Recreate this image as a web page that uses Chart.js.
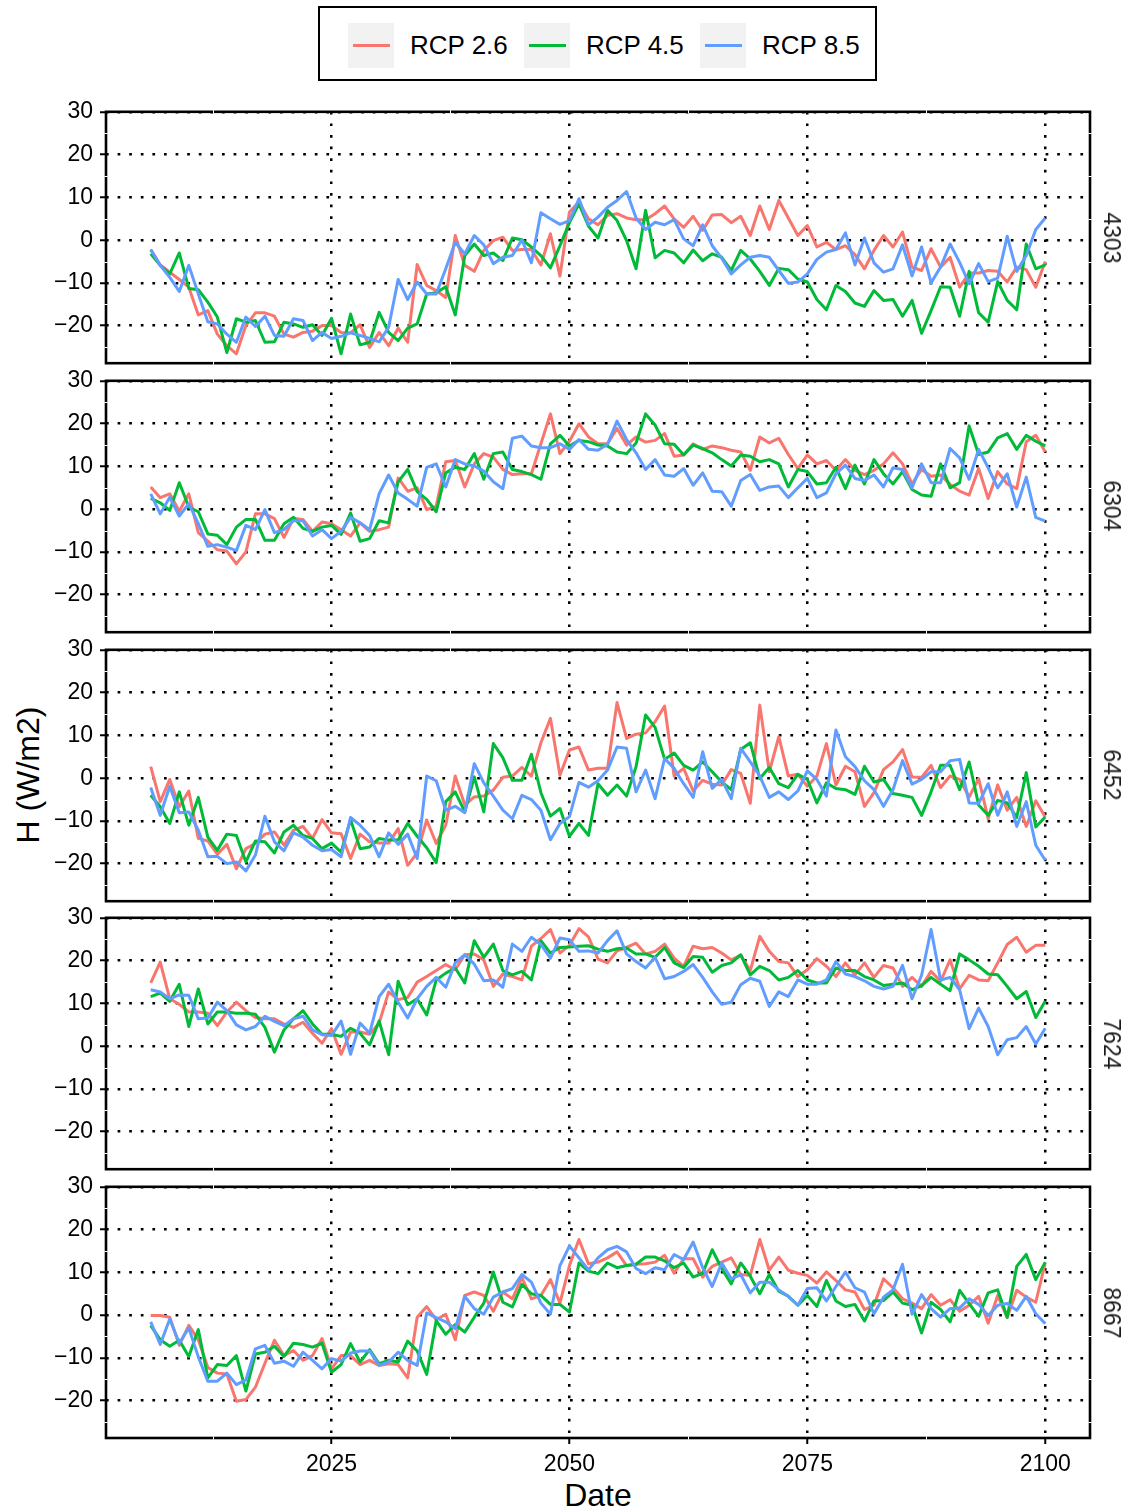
<!DOCTYPE html>
<html>
<head>
<meta charset="utf-8">
<title>H (W/m2) by station</title>
<script src="https://cdn.jsdelivr.net/npm/chart.js@4.4.1/dist/chart.umd.min.js"></script>
<style>
  html, body { margin: 0; padding: 0; background: #fff; }
  body { width: 1129px; height: 1512px; position: relative; overflow: hidden;
         font-family: "Liberation Sans", Arial, sans-serif; color: #000; }
  canvas.panel { position: absolute; left: 0; }
  #legend { position: absolute; left: 318px; top: 6px; width: 559px; height: 75px;
            box-sizing: border-box; border: 2px solid #000; background: #fff; }
  .key { position: absolute; top: 15px; width: 46px; height: 45px; background: #f2f2f2; }
  .key span { position: absolute; left: 5px; top: 21px; width: 37px; height: 3px; }
  .lab { position: absolute; top: 22px; font-size: 26px; line-height: 30px; white-space: nowrap; }
  .strip { position: absolute; font-size: 23px; line-height: 26px; color: #1a1a1a;
           transform: translate(-50%, -50%) rotate(90deg); white-space: nowrap; }
  #ytitle { position: absolute; left: 28px; top: 775px; font-size: 32px; line-height: 34px;
            transform: translate(-50%, -50%) rotate(-90deg); white-space: nowrap; }
  #xtitle { position: absolute; left: 598px; top: 1495px; font-size: 32px; line-height: 34px;
            transform: translate(-50%, -50%); white-space: nowrap; }
</style>
</head>
<body>
<div id="legend"></div>
<div id="ytitle">H (W/m2)</div>
<div id="xtitle">Date</div>

<script>
// ---- data -------------------------------------------------------------
const years = Array.from({ length: 95 }, (_, i) => 2006 + i);   // 2006 … 2100

const stations = ['4303', '6304', '6452', '7624', '8667'];
const scenarios = ['RCP 2.6', 'RCP 4.5', 'RCP 8.5'];

const xTicks = [2025, 2050, 2075, 2100];
const xMinor = [2012.5, 2037.5, 2062.5, 2087.5];
const yTicks = [-20, -10, 0, 10, 20, 30];
const yMinor = [-25, -15, -5, 5, 15, 25];

// station 4303
const h4303_rcp26 = [-2.2,-5.8,-7.5,-9.2,-11.0,-17.5,-16.5,-22.0,-24.7,-26.6,
  -20.0,-17.0,-17.0,-17.8,-22.0,-22.7,-21.6,-21.3,-20.0,-20.0,
  -21.6,-21.7,-19.8,-25.1,-21.6,-24.7,-20.6,-23.9,-5.7,-10.6,
  -11.8,-13.4,1.1,-5.9,-7.3,-2.4,-0.1,0.7,-2.4,-2.2,
  -2.2,-5.8,1.5,-8.4,6.6,8.9,5.0,3.6,5.8,6.2,
  5.2,4.8,4.8,6.2,8.0,5.0,3.0,5.6,2.3,5.9,
  6.0,4.1,5.6,1.1,8.0,2.5,9.3,5.2,1.1,3.4,
  -1.6,-0.5,-2.2,-1.3,-3.4,-6.7,-2.4,1.1,-1.6,1.9,
  -6.3,-7.1,-2.0,-6.3,-4.0,-11.0,-7.7,-7.7,-7.1,-7.3,
  -9.8,-6.3,-6.9,-11.0,-5.0];
const h4303_rcp45 = [-3.2,-5.9,-7.9,-3.0,-11.3,-11.6,-14.5,-18.0,-26.3,-18.4,
  -19.2,-18.8,-23.9,-23.8,-19.2,-19.6,-20.4,-19.8,-22.3,-18.3,
  -26.6,-17.3,-24.5,-23.9,-16.9,-21.6,-23.5,-20.6,-19.6,-12.6,
  -12.3,-10.9,-17.5,-3.6,-0.9,-3.6,-3.0,-4.8,0.5,0.1,
  -1.6,-3.6,-6.5,-1.3,4.1,8.5,3.3,0.5,7.0,4.6,
  -0.1,-6.7,7.0,-4.1,-2.4,-3.0,-5.3,-2.3,-4.8,-3.2,
  -4.0,-7.1,-2.4,-4.4,-7.3,-10.6,-6.6,-6.9,-9.1,-9.8,
  -13.9,-16.3,-10.6,-12.0,-14.7,-15.5,-11.8,-14.1,-13.9,-17.8,
  -14.1,-21.8,-16.5,-10.9,-11.0,-17.8,-7.3,-17.0,-19.2,-9.7,
  -14.1,-16.3,-0.9,-6.7,-5.8];
const h4303_rcp85 = [-2.2,-5.9,-8.7,-12.0,-5.9,-12.6,-19.1,-19.6,-22.0,-23.9,
  -18.0,-20.2,-17.8,-22.3,-22.5,-18.4,-18.8,-23.5,-21.6,-23.0,
  -22.5,-21.7,-22.3,-23.0,-23.8,-20.4,-9.2,-13.9,-9.8,-12.6,
  -12.6,-6.7,-0.5,-3.2,1.1,-1.1,-5.5,-4.0,-3.6,0.1,
  -5.3,6.4,5.0,3.7,4.6,9.7,3.6,5.4,7.7,9.3,
  11.4,5.2,2.5,4.2,3.6,4.8,0.3,-1.3,3.6,-1.3,
  -4.2,-7.9,-5.8,-4.0,-3.6,-4.0,-7.1,-10.1,-9.8,-7.9,
  -4.5,-2.8,-2.2,1.7,-5.8,0.5,-5.3,-7.5,-6.7,-1.1,
  -8.4,-1.6,-10.0,-6.3,-0.9,-5.2,-10.2,-5.5,-9.7,-8.9,
  0.9,-7.3,-3.6,2.5,5.2];

// station 6304
const h6304_rcp26 = [5.2,2.7,3.6,-0.5,3.6,-5.5,-7.5,-9.5,-9.8,-12.8,
  -10.0,-1.1,-1.1,-2.2,-6.6,-2.2,-2.4,-5.2,-3.0,-3.4,
  -4.8,-6.3,-3.2,-5.2,-4.8,-4.2,7.3,4.2,5.0,-0.1,
  0.7,11.1,11.4,5.2,10.6,13.0,12.2,9.3,8.1,8.3,
  8.3,15.3,22.3,13.0,15.9,20.0,16.9,15.3,15.3,18.9,
  15.0,16.9,15.7,16.1,17.7,12.4,12.7,15.3,14.0,14.8,
  14.4,13.8,13.4,9.1,16.9,15.5,16.6,12.8,9.5,12.7,
  10.6,11.4,9.1,11.6,9.1,8.1,9.1,10.6,13.2,10.6,
  5.9,9.3,7.7,8.0,5.8,4.2,3.3,9.5,2.5,8.8,
  5.9,4.8,15.8,17.3,13.4];
const h6304_rcp45 = [2.5,1.5,-0.3,6.2,0.5,-0.6,-5.8,-6.1,-8.3,-4.2,
  -2.4,-2.4,-7.3,-7.3,-3.4,-1.9,-4.5,-5.2,-4.2,-3.8,
  -5.9,-0.9,-7.5,-6.9,-2.7,-3.2,6.4,9.3,4.1,2.3,
  -0.6,8.5,9.8,9.3,13.0,7.0,13.0,13.4,9.3,8.8,
  8.1,7.0,15.3,17.3,14.8,16.1,15.8,15.0,14.8,13.4,
  13.0,15.5,22.3,19.7,15.3,15.2,12.7,15.0,14.2,13.2,
  11.6,10.1,12.7,12.4,11.1,11.6,10.6,5.2,9.3,8.8,
  5.9,6.2,9.8,4.8,10.3,5.9,11.6,8.3,5.9,8.8,
  4.6,3.3,3.0,10.6,5.0,6.2,19.5,12.8,13.4,16.7,
  17.7,14.0,17.3,15.9,14.8];
const h6304_rcp85 = [3.6,-1.1,2.8,-1.6,1.3,-3.4,-8.7,-8.3,-8.9,-9.7,
  -3.8,-4.8,-0.1,-5.5,-4.8,-2.7,-2.7,-6.3,-4.8,-6.9,
  -5.2,-1.9,-3.2,-4.8,3.6,8.0,3.8,2.3,0.7,9.8,
  10.6,5.2,11.6,10.6,10.1,8.9,6.4,4.8,16.6,17.1,
  14.8,14.4,14.4,15.3,14.0,16.3,14.0,13.8,15.2,20.6,
  16.3,13.2,9.3,11.6,8.0,7.7,9.5,5.6,8.5,4.2,
  4.1,0.7,6.7,8.1,4.4,5.2,5.4,2.7,5.0,7.2,
  2.7,3.8,8.3,10.3,7.2,6.7,8.0,5.2,9.7,9.3,
  5.0,10.6,6.2,6.2,14.2,12.0,7.0,14.0,9.7,5.0,
  8.3,0.5,7.5,-1.9,-2.8];

// station 6452
const h6452_rcp26 = [2.7,-5.5,-0.3,-6.7,-3.0,-14.1,-14.7,-17.8,-15.5,-21.2,
  -16.5,-15.3,-13.1,-12.6,-15.7,-12.2,-11.3,-14.1,-9.7,-12.8,
  -13.0,-18.8,-13.1,-14.9,-15.2,-15.2,-11.8,-20.4,-17.5,-9.8,
  -15.3,-11.0,0.5,-6.3,-4.4,-4.2,-2.8,0.2,0.5,2.5,
  0.5,8.3,14.0,0.7,6.6,7.3,1.9,2.3,2.3,17.7,
  9.3,10.3,10.6,13.2,16.9,0.5,2.3,-3.0,-0.5,-1.4,
  -1.6,2.0,1.1,-5.9,17.1,1.5,9.7,0.5,0.9,-1.9,
  0.5,8.1,-1.6,2.8,1.5,-6.6,-3.4,2.0,3.8,6.7,
  0.3,0.2,3.0,-2.2,0.5,-0.3,-4.4,-0.1,-9.5,-1.6,
  -7.5,-4.5,-11.3,-5.3,-9.1];
const h6452_rcp45 = [-4.0,-6.7,-10.6,-3.2,-11.0,-4.5,-13.8,-16.9,-13.1,-13.4,
  -19.6,-14.7,-14.9,-17.5,-12.6,-11.0,-13.4,-14.1,-16.5,-15.2,
  -17.3,-9.7,-16.5,-16.1,-14.1,-14.5,-14.5,-10.6,-13.6,-16.3,
  -19.8,-5.5,-3.2,-7.9,0.3,-7.9,8.1,4.8,-0.5,-0.5,
  5.6,-3.4,-8.9,-7.1,-13.6,-10.6,-13.4,-1.3,-4.0,-1.6,
  -4.2,2.7,14.8,11.9,4.4,5.9,3.0,1.9,3.8,1.5,
  -0.9,-2.7,6.7,8.3,-0.1,2.5,-1.3,-2.2,0.9,-0.3,
  -5.8,-1.1,-2.4,-2.7,-3.8,2.8,-0.9,-0.3,-3.6,-4.0,
  -4.5,-8.7,-3.2,3.0,3.0,-2.7,3.8,-6.3,-8.7,-5.2,
  -5.8,-9.2,1.3,-11.4,-9.1];
const h6452_rcp85 = [-2.2,-8.7,-1.9,-8.1,-7.9,-12.2,-18.4,-18.3,-20.0,-19.6,
  -21.7,-18.0,-8.9,-14.9,-17.0,-12.8,-13.8,-15.7,-17.0,-16.7,
  -18.4,-9.2,-11.0,-13.4,-18.4,-12.8,-15.5,-13.1,-18.8,0.5,
  -0.6,-7.5,-6.6,-8.1,3.4,-1.1,-4.2,-7.5,-9.5,-4.0,
  -5.0,-7.5,-14.4,-10.6,-9.0,-1.0,-2.1,-0.6,1.9,7.3,
  7.0,-3.2,1.9,-4.8,4.6,2.3,-1.3,-4.5,6.2,-2.4,
  -0.3,-4.8,7.0,3.8,0.5,-4.5,-3.2,-5.0,-3.0,1.7,
  -0.3,-4.2,11.3,5.0,2.7,-0.6,-2.7,-6.6,-2.7,4.1,
  -1.4,-0.3,1.5,1.5,4.1,4.4,-5.8,-5.9,-1.3,-8.7,
  -3.2,-11.3,-5.5,-15.7,-19.2];

// station 7624
const h7624_rcp26 = [14.8,19.7,11.1,9.8,8.0,8.0,7.7,4.8,8.0,10.3,
  8.3,6.7,6.4,6.4,5.2,4.4,5.6,3.0,0.7,4.1,
  -1.9,3.3,3.3,2.8,5.4,12.7,10.9,11.4,15.0,16.3,
  17.7,19.1,17.9,21.4,21.6,20.2,14.0,16.9,16.3,15.5,
  23.4,25.2,27.3,21.8,23.6,27.5,25.6,20.4,19.5,22.3,
  23.1,24.1,21.6,22.2,23.9,20.6,18.7,23.4,22.8,23.1,
  21.8,20.2,21.3,17.7,25.7,22.2,19.8,19.5,16.3,17.9,
  20.5,18.7,16.3,19.5,16.7,19.5,16.1,18.9,18.3,14.0,
  16.1,14.0,17.5,15.2,20.2,13.4,16.6,15.5,15.3,19.5,
  23.8,25.5,22.0,23.6,23.6];
const h7624_rcp45 = [11.6,12.4,10.5,14.5,4.6,13.4,5.2,8.0,8.0,7.7,
  7.7,7.5,4.4,-1.4,3.8,6.4,8.3,5.2,2.8,2.8,
  2.3,4.2,3.0,0.3,5.9,-2.0,15.2,9.7,11.1,7.3,
  15.5,17.1,18.3,14.8,24.7,20.8,23.9,17.7,16.7,17.5,
  15.5,24.7,21.8,23.1,23.2,23.4,23.5,22.7,22.2,22.8,
  23.0,21.6,21.6,20.8,23.1,19.5,18.4,21.0,20.8,17.3,
  18.9,19.5,21.4,16.7,18.7,17.7,15.5,16.1,17.7,15.5,
  14.8,14.8,18.3,17.7,17.7,16.3,15.5,14.2,14.5,14.8,
  13.2,14.2,16.1,14.5,13.0,21.6,20.2,18.7,16.9,16.7,
  14.0,11.1,12.8,6.7,10.6];
const h7624_rcp85 = [13.2,12.7,11.1,12.0,11.9,6.4,6.6,10.3,8.3,5.0,
  3.8,4.6,7.0,5.8,4.8,6.4,7.0,3.8,2.7,2.5,
  5.9,-1.9,5.4,3.0,11.6,14.5,10.3,6.6,11.1,14.0,
  16.1,13.8,19.5,21.4,19.2,15.3,15.5,13.8,23.9,22.2,
  25.5,23.8,20.6,25.3,24.9,22.2,22.3,21.8,24.7,27.0,
  21.6,19.8,18.3,20.8,15.8,16.3,17.5,19.1,16.1,12.7,
  9.8,10.3,14.4,15.9,15.2,9.3,12.7,11.6,15.5,14.5,
  14.5,15.5,19.8,16.9,16.3,15.3,14.0,13.4,14.0,18.9,
  11.1,16.6,27.3,15.5,16.1,13.2,4.1,8.9,4.6,-2.0,
  1.5,2.0,4.6,0.5,4.2];

// station 8667
const h8667_rcp26 = [-0.1,-0.1,-0.5,-7.1,-2.4,-5.8,-12.3,-13.6,-13.8,-20.2,
  -19.8,-16.9,-11.3,-5.9,-9.5,-8.3,-10.6,-9.5,-5.5,-12.6,
  -9.5,-9.5,-11.6,-10.6,-11.8,-11.4,-11.6,-14.7,-0.5,2.0,
  -1.1,0.2,-5.8,4.6,5.4,4.6,0.9,5.4,3.8,8.8,
  3.8,4.6,8.3,2.8,11.6,17.7,12.0,12.4,13.4,14.8,
  11.6,11.9,12.0,12.4,14.0,9.8,13.2,13.2,8.9,11.4,
  12.4,13.4,9.5,9.3,17.7,10.5,13.6,10.5,9.8,9.3,
  7.5,10.1,8.1,5.9,5.4,1.3,2.3,8.5,6.4,3.8,
  2.8,1.5,4.8,2.3,3.6,0.9,2.3,4.4,-1.9,4.6,
  -0.6,5.8,4.2,3.0,12.2];
const h8667_rcp45 = [-2.4,-5.8,-7.3,-5.9,-9.7,-3.4,-14.7,-11.6,-11.8,-9.5,
  -17.8,-9.1,-8.7,-7.3,-9.7,-6.6,-6.9,-7.5,-6.6,-13.4,
  -11.6,-6.7,-11.0,-8.1,-11.4,-10.6,-11.0,-6.1,-8.4,-13.9,
  -1.3,-4.5,-2.2,-4.0,-0.5,2.8,10.1,3.0,1.9,7.2,
  5.0,4.6,2.5,2.5,0.7,12.2,10.3,9.7,12.2,11.1,
  11.6,11.9,13.6,13.6,12.7,11.1,12.2,8.9,9.8,15.3,
  10.9,7.3,12.2,9.1,5.0,9.5,5.6,4.4,2.3,4.6,
  2.0,8.1,3.3,2.0,2.5,-1.4,3.3,3.4,5.4,2.8,
  2.3,-4.2,3.0,1.3,-1.6,5.8,2.7,-0.3,5.2,5.9,
  -0.5,11.4,14.2,8.3,12.4];
const h8667_rcp85 = [-1.6,-6.9,-0.9,-6.6,-3.0,-9.8,-15.5,-15.5,-13.6,-16.3,
  -15.2,-7.9,-7.1,-11.3,-10.8,-12.0,-8.7,-10.6,-12.6,-10.2,
  -10.8,-8.9,-8.4,-8.4,-11.8,-11.0,-8.7,-10.6,-11.8,0.5,
  -0.6,-1.6,-3.2,4.4,1.5,0.2,4.2,5.4,6.2,9.5,
  7.7,2.8,0.2,11.6,16.2,13.4,10.6,13.4,15.3,16.1,
  14.8,10.9,9.7,11.1,10.6,14.2,13.0,17.1,11.1,6.7,
  12.2,8.5,9.5,5.2,7.7,7.7,5.9,4.4,2.3,6.2,
  6.4,3.3,6.7,10.1,6.4,5.4,0.3,4.2,5.9,11.9,
  0.2,4.8,1.5,-0.5,1.5,1.7,3.8,2.5,-0.1,2.3,
  2.7,1.1,4.4,0.3,-2.0];

const seriesByStation = {
  '4303': [h4303_rcp26, h4303_rcp45, h4303_rcp85],
  '6304': [h6304_rcp26, h6304_rcp45, h6304_rcp85],
  '6452': [h6452_rcp26, h6452_rcp45, h6452_rcp85],
  '7624': [h7624_rcp26, h7624_rcp45, h7624_rcp85],
  '8667': [h8667_rcp26, h8667_rcp45, h8667_rcp85]
};

// ---- appearance -------------------------------------------------------
const colours = ['#F8766D', '#00BA38', '#619CFF'];
const FONT = '"Liberation Sans", Arial, sans-serif';
const PAGE_W = 1129, PAGE_H = 1512;
const PANEL_RIGHT = 1090;
const PANEL_H = 251, PANEL_STEP = 268.75, FIRST_TOP = 112;
const AXIS_W = 106;      // room for the y tick labels, left of every panel
const PAD = 16;

// legend (HTML)
const legendEl = document.getElementById('legend');
scenarios.forEach((name, i) => {
  const key = document.createElement('div');
  key.className = 'key';
  key.style.left = (28 + i * 176) + 'px';
  const ln = document.createElement('span');
  ln.style.background = colours[i];
  key.appendChild(ln);
  legendEl.appendChild(key);
  const lab = document.createElement('div');
  lab.className = 'lab';
  lab.style.left = (90 + i * 176) + 'px';
  lab.textContent = name;
  legendEl.appendChild(lab);
});

// panel frame: solid border on all four sides, with thin white breaks at the minor breaks
const panelFrame = {
  id: 'panelFrame',
  afterDraw(chart) {
    const { ctx, chartArea: a, scales } = chart;
    ctx.save();
    ctx.strokeStyle = '#000';
    ctx.lineWidth = 2.6;
    ctx.strokeRect(a.left, a.top, a.right - a.left, a.bottom - a.top);
    ctx.strokeStyle = '#fff';
    ctx.lineWidth = 1;
    ctx.beginPath();
    xMinor.forEach(v => {
      const x = Math.round(scales.x.getPixelForValue(v)) + 0.5;
      ctx.moveTo(x, a.top - 1.6); ctx.lineTo(x, a.top + 1.6);
      ctx.moveTo(x, a.bottom - 1.6); ctx.lineTo(x, a.bottom + 1.6);
    });
    yMinor.forEach(v => {
      const y = Math.round(scales.y.getPixelForValue(v)) + 0.5;
      ctx.moveTo(a.left - 1.6, y); ctx.lineTo(a.left + 1.6, y);
      ctx.moveTo(a.right - 1.6, y); ctx.lineTo(a.right + 1.6, y);
    });
    ctx.stroke();
    ctx.restore();
  }
};

const minusFmt = v => (v < 0 ? '\u2212' + Math.abs(v) : String(v));

// shiftTop: extra canvas room above the plot area; growBottom: extra room below it
function buildPanel(p, shiftTop, growBottom) {
  const st = stations[p];
  const last = p === stations.length - 1;
  const top = FIRST_TOP + p * PANEL_STEP;
  const canvasTop = top - PAD - shiftTop;
  const baseH = last ? (PAGE_H - (top - PAD)) : (PANEL_H + 2 * PAD);
  const canvasH = Math.round(baseH + shiftTop + growBottom);
  const xAxisH = last ? (PAGE_H - (top + PANEL_H)) : 0;

  const cv = document.createElement('canvas');
  cv.className = 'panel';
  cv.width = PAGE_W; cv.height = canvasH;
  cv.style.top = canvasTop + 'px';
  document.body.appendChild(cv);

  const datasets = seriesByStation[st].map((vals, i) => ({
    label: scenarios[i],
    data: years.map((yr, k) => ({ x: yr, y: vals[k] })),
    borderColor: colours[i],
    backgroundColor: colours[i],
    borderWidth: 3,
    borderJoinStyle: 'round',
    pointRadius: 0,
    tension: 0,
    fill: false,
    order: 3 - i          // RCP 8.5 drawn last (on top)
  }));

  const chart = new Chart(cv, {
    type: 'line',
    data: { datasets },
    plugins: [panelFrame],
    options: {
      responsive: false,
      animation: false,
      devicePixelRatio: 1,
      events: [],
      layout: { padding: { top: PAD, bottom: last ? 0 : PAD, left: 0, right: PAGE_W - PANEL_RIGHT } },
      plugins: { legend: { display: false }, tooltip: { enabled: false } },
      scales: {
        x: {
          type: 'linear',
          min: 2001.3, max: 2104.7,
          afterBuildTicks: ax => { ax.ticks = xTicks.map(v => ({ value: v })); },
          afterFit: ax => { ax.height = xAxisH; },
          grid: { color: '#000', lineWidth: 2.5, drawTicks: last, tickLength: 6,
                  tickColor: '#000', tickWidth: 2 },
          border: { display: false, dash: [2.7, 8.9] },
          ticks: { display: last, color: '#000', padding: 7, maxRotation: 0,
                   callback: v => String(v),
                   font: { family: FONT, size: 23 } }
        },
        y: {
          type: 'linear',
          min: -28.8, max: 30.05,
          afterBuildTicks: ax => { ax.ticks = yTicks.map(v => ({ value: v })); },
          afterFit: ax => { ax.width = AXIS_W; },
          grid: { color: '#000', lineWidth: 2.5, drawTicks: true, tickLength: 6,
                  tickColor: '#000', tickWidth: 2 },
          border: { display: false, dash: [2.7, 8.9] },
          ticks: { color: '#000', padding: 7, callback: minusFmt,
                   font: { family: FONT, size: 23 } }
        }
      }
    }
  });
  return { chart, cv, top };
}

stations.forEach((st, p) => {
  // lay the panel out once, then shift/grow the canvas so the plot area
  // sits exactly on its slot
  let built = buildPanel(p, 0, 0);
  const a = built.chart.chartArea;
  const extraTop = Math.round(a.top - PAD);
  const extraBottom = Math.round((PAD + PANEL_H) - a.bottom);
  if (extraTop !== 0 || extraBottom !== 0) {
    built.chart.destroy();
    built.cv.remove();
    built = buildPanel(p, extraTop, extraBottom);
  }

  // facet strip label on the right
  const strip = document.createElement('div');
  strip.className = 'strip';
  strip.textContent = st;
  strip.style.left = '1112px';
  strip.style.top = (built.top + PANEL_H / 2) + 'px';
  document.body.appendChild(strip);
});
</script>
</body>
</html>
